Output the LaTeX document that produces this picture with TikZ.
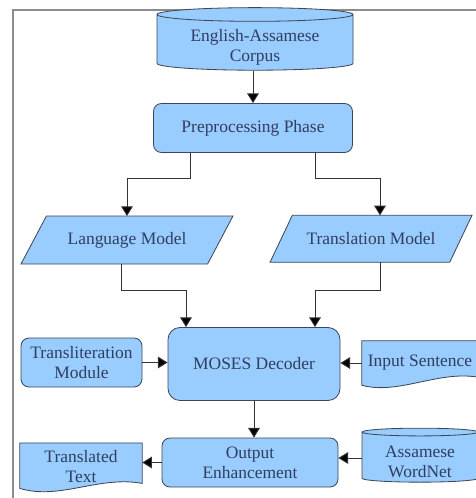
\documentclass[tikz,border=0pt]{standalone}
\usepackage{fontspec}
\setmainfont{Liberation Serif}
\usetikzlibrary{positioning,arrows.meta,shapes.geometric,backgrounds}
\definecolor{boxblue}{RGB}{153,204,255}
\definecolor{boxline}{RGB}{60,70,85}
\definecolor{boxtext}{RGB}{48,62,96}
\tikzset{
  flowarrow/.style={-{Triangle[length=2.9mm,width=3.5mm,fill=black]}, line width=0.8pt, draw=black!80},
  stepbox/.style={draw=boxline, fill=boxblue, rounded corners=2.4mm, line width=0.7pt, align=center, text=boxtext},
  datastore/.style={draw=boxline, fill=boxblue, cylinder, shape border rotate=90, aspect=0.1, inner ysep=0pt, line width=0.7pt, align=center, text=boxtext},
  modelbox/.style={draw=boxline, fill=boxblue, trapezium, trapezium stretches body, trapezium left angle=43, trapezium right angle=137, line width=0.7pt, align=center, text=boxtext},
  doctext/.style={align=center, text=boxtext},
  docshape/.style={draw=boxline, fill=boxblue, line width=0.7pt}
}

\begin{document}
\begin{tikzpicture}[>=Latex, every node/.style={font=\fontsize{14.9}{17}\selectfont}]
  \clip (0,0) rectangle (14.28,-14.94);
  \draw[line width=1pt, draw=black!45] (0.39,-0.30) rectangle (14.6,-15.3);

  \node[datastore, minimum width=5.88cm, minimum height=1.71cm] (corpus) at (7.65,-1.305) {\rule{0pt}{17pt}English-Assamese\\ Corpus};
  \node[stepbox, minimum width=5.97cm, minimum height=1.47cm] (prep) at (7.59,-3.84) {Preprocessing Phase};
  \node[modelbox, minimum width=6.36cm, minimum height=1.44cm] (lang) at (3.81,-7.2) {Language Model};
  \node[modelbox, trapezium left angle=42, trapezium right angle=138, minimum width=6.06cm, minimum height=1.41cm] (trans) at (11.13,-7.165) {Translation Model};
  \node[stepbox, rounded corners=3.6mm, minimum width=5.16cm, minimum height=2.19cm] (moses) at (7.62,-10.92) {MOSES Decoder};
  \node[stepbox, minimum width=3.63cm, minimum height=1.47cm] (translit) at (2.445,-10.875) {Transliteration\\ Module};
  \node[doctext, minimum width=3.48cm, minimum height=1.32cm] (input) at (12.6,-10.89) {Input Sentence};
  \node[stepbox, minimum width=5.28cm, minimum height=1.47cm] (outenh) at (7.5,-13.875) {Output\\ Enhancement};
  \node[doctext, minimum width=3.66cm, minimum height=1.41cm] (transl) at (2.43,-14.0) {Translated\\ Text};
  \node[datastore, minimum width=3.48cm, minimum height=1.62cm] (wordnet) at (12.6,-13.74) {\rule{0pt}{17pt}Assamese\\ WordNet};

  \begin{pgfonlayer}{background}
    \draw[docshape] (input.north west) -- (input.north east) -- ([yshift=0.24cm]input.south east)
      .. controls ([xshift=-1.2cm,yshift=0.45cm]input.south east) and ([xshift=1.1cm,yshift=-0.3cm]input.south west) .. (input.south west) -- cycle;
    \draw[docshape] (transl.north west) -- (transl.north east) -- ([yshift=0.21cm]transl.south east)
      .. controls ([xshift=-1.3cm,yshift=0.45cm]transl.south east) and ([xshift=1.2cm,yshift=-0.3cm]transl.south west) .. ([yshift=0.06cm]transl.south west) -- cycle;
  \end{pgfonlayer}

  \draw[flowarrow] (corpus.south -| prep.north) -- (prep.north);
  \draw[flowarrow] ([xshift=-1.89cm]prep.south) -- ++(0,-0.78) -| ([yshift=0.72cm]lang.center);
  \draw[flowarrow] ([xshift=1.86cm]prep.south) -- ++(0,-0.78) -| ([xshift=0.27cm,yshift=0.705cm]trans.center);
  \draw[flowarrow] ([xshift=-0.18cm,yshift=-0.72cm]lang.center) -- ++(0,-0.78) -| ([xshift=-2.04cm]moses.north);
  \draw[flowarrow] ([xshift=0.27cm,yshift=-0.705cm]trans.center) -- ++(0,-0.84) -| ([xshift=1.83cm]moses.north);
  \draw[flowarrow] (translit.east) -- (translit.east -| moses.west);
  \draw[flowarrow] (input.west) -- (input.west -| moses.east);
  \draw[flowarrow] (moses.south) -- (moses.south |- outenh.north);
  \draw[flowarrow] (outenh.west) -- (outenh.west -| transl.east);
  \draw[flowarrow] (wordnet.west) -- (wordnet.west -| outenh.east);
\end{tikzpicture}
\end{document}
